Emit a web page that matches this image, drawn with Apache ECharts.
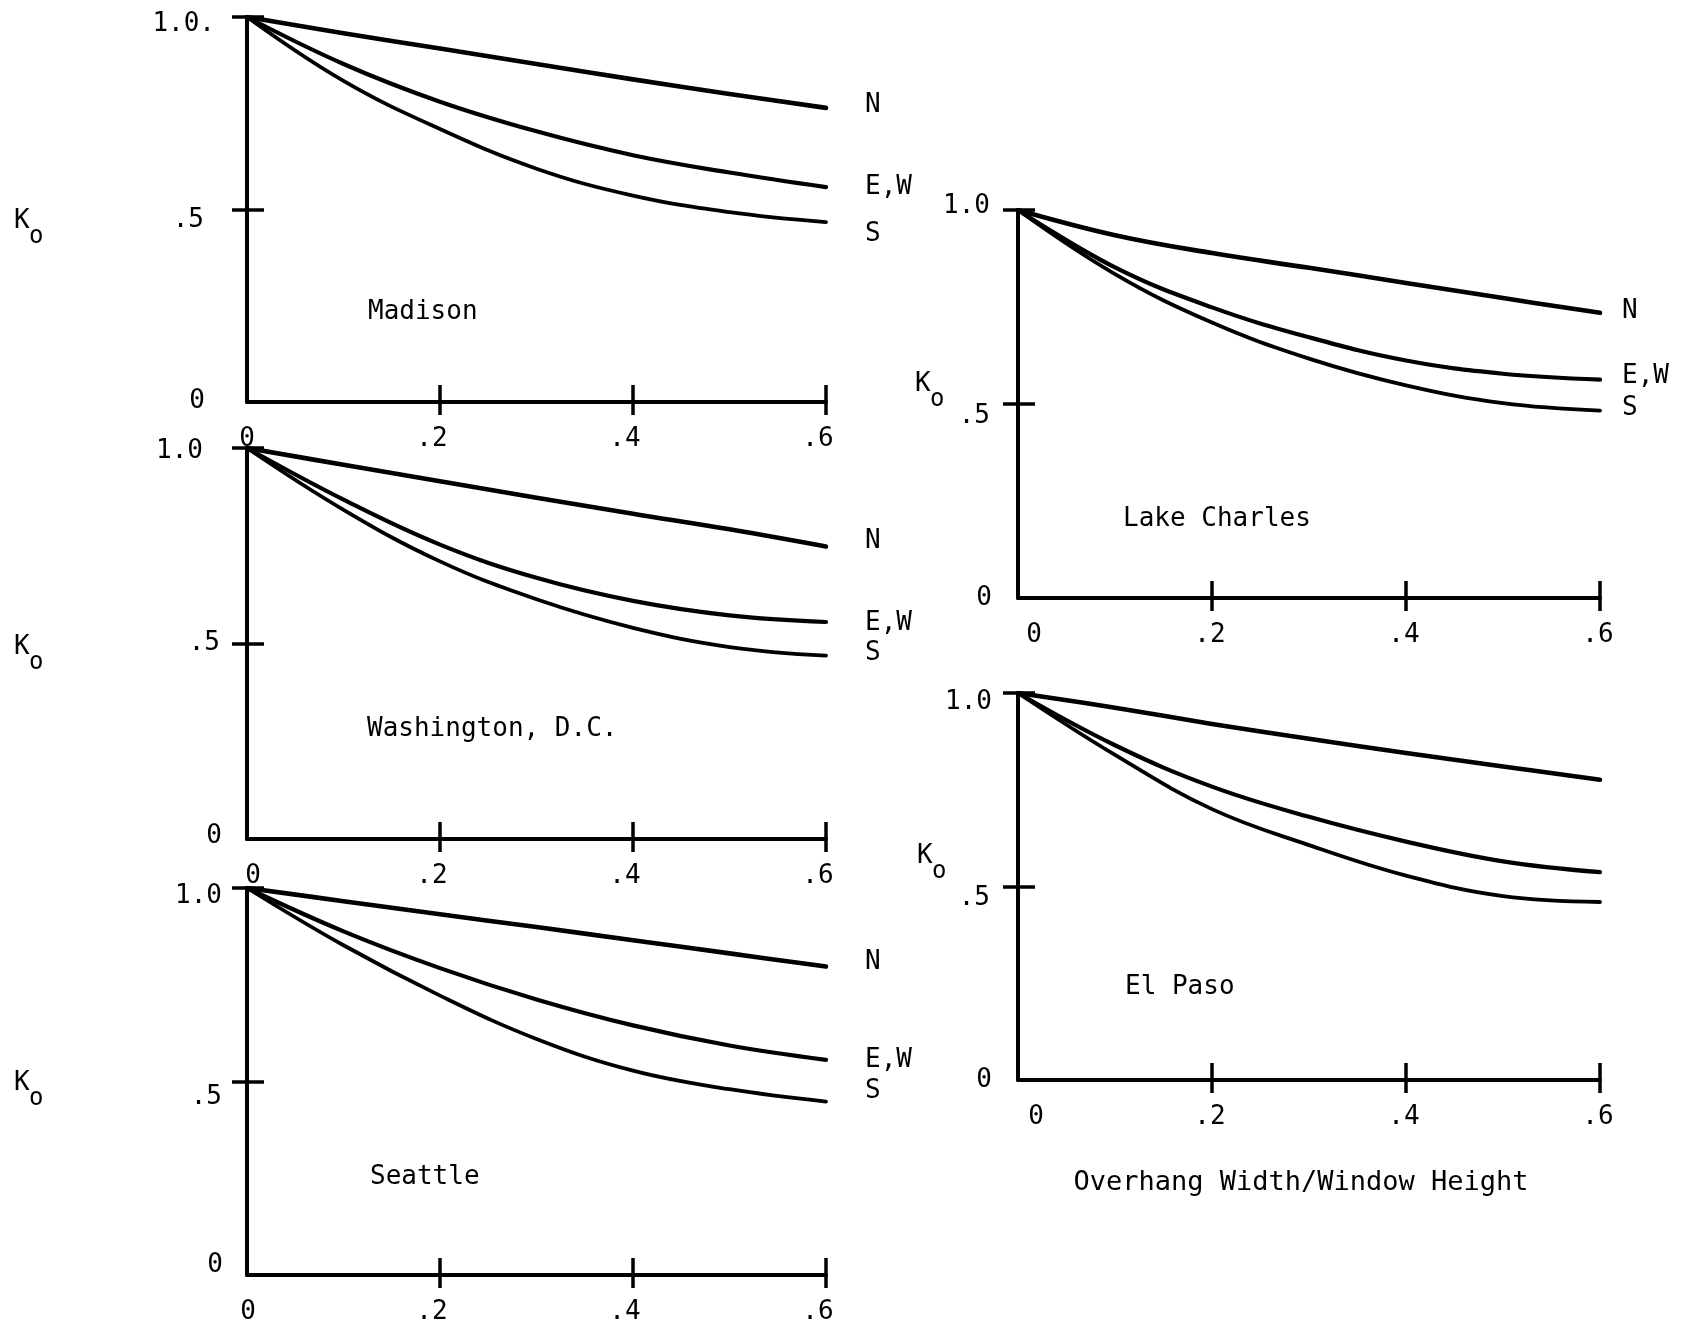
<!DOCTYPE html>
<html>
<head>
<meta charset="utf-8">
<script src="https://cdn.jsdelivr.net/npm/echarts@6/dist/echarts.min.js"></script>
<style>
  html, body { margin: 0; padding: 0; background: #ffffff; }
  #chart { width: 1682px; height: 1338px; }
</style>
</head>
<body>
<div id="chart"></div>
<script>
// Overhang width / window height sampled along each curve
const overhangRatio = [0, 0.1, 0.2, 0.3, 0.4, 0.5, 0.6];

// Overhang factor Ko by window orientation, one set per city
const madisonN  = [1.0, 0.958, 0.918, 0.878, 0.838, 0.800, 0.764];
const madisonEW = [1.0, 0.878, 0.780, 0.703, 0.641, 0.596, 0.558];
const madisonS  = [1.0, 0.834, 0.709, 0.606, 0.536, 0.493, 0.467];

const washingtonN  = [1.0, 0.957, 0.915, 0.873, 0.832, 0.792, 0.748];
const washingtonEW = [1.0, 0.868, 0.753, 0.668, 0.609, 0.572, 0.555];
const washingtonS  = [1.0, 0.842, 0.710, 0.613, 0.540, 0.491, 0.469];

const seattleN  = [1.0, 0.966, 0.932, 0.899, 0.865, 0.831, 0.797];
const seattleEW = [1.0, 0.888, 0.793, 0.712, 0.645, 0.593, 0.556];
const seattleS  = [1.0, 0.852, 0.722, 0.610, 0.528, 0.480, 0.448];

const lakeCharlesN  = [1.0, 0.935, 0.889, 0.851, 0.812, 0.773, 0.735];
const lakeCharlesEW = [1.0, 0.852, 0.749, 0.672, 0.612, 0.578, 0.563];
const lakeCharlesS  = [1.0, 0.835, 0.710, 0.617, 0.548, 0.502, 0.483];

const elPasoN  = [1.0, 0.962, 0.920, 0.882, 0.845, 0.810, 0.776];
const elPasoEW = [1.0, 0.865, 0.758, 0.680, 0.616, 0.565, 0.537];
const elPasoS  = [1.0, 0.840, 0.700, 0.607, 0.528, 0.475, 0.460];

const cities = ['Madison', 'Washington, D.C.', 'Seattle', 'Lake Charles', 'El Paso'];
const orientations = ['N', 'E,W', 'S'];

// Tick labels
const xTickText = { 0: '0', 0.2: '.2', 0.4: '.4', 0.6: '.6' };
const yTickText = { 0: '0', 0.5: '.5', 1: '1.0' };
const madisonTopLabel = '1.0.';
const xAxisTitle = 'Overhang Width/Window Height';
const yAxisSymbol = 'K';
const yAxisSubscript = 'o';

const FONT = '"DejaVu Sans Mono", "Liberation Mono", monospace';
const INK = '#000000';

// Panel layout: grid box and label placement.
// yLab: per tick (0, .5, 1.0) -> [extra right padding, vertical shift]
const panels = [
  { series: [madisonN, madisonEW, madisonS], grid: { left: 247, right: 856, top: 17, bottom: 936 },
    endLabels: true, labelDist: 39, labelDy: [-3, 0, 12], topLabel: madisonTopLabel,
    zeroDx: 0, tickDx: -8, yMargin: 32,
    yLab: { zero: [10, -1], half: [11, 11], top: [0, 7] },
    name: [368, 312], ko: [14, 221] },
  { series: [washingtonN, washingtonEW, washingtonS], grid: { left: 247, right: 856, top: 448, bottom: 499 },
    endLabels: true, labelDist: 39, labelDy: [-5, 1, -2], topLabel: null,
    zeroDx: 6, tickDx: -8, yMargin: 25,
    yLab: { zero: [0, -3], half: [2, 0], top: [19, 3] },
    name: [367, 729], ko: [14, 647] },
  { series: [seattleN, seattleEW, seattleS], grid: { left: 247, right: 856, top: 888, bottom: 63 },
    endLabels: true, labelDist: 39, labelDy: [-4, 0, -10], topLabel: null,
    zeroDx: 1, tickDx: -8, yMargin: 24,
    yLab: { zero: [0, -10], half: [1, 16], top: [1, 8] },
    name: [370, 1177], ko: [14, 1083] },
  { series: [lakeCharlesN, lakeCharlesEW, lakeCharlesS], grid: { left: 1018, right: 82, top: 210, bottom: 740 },
    endLabels: true, labelDist: 22, labelDy: [-2, -3, -2], topLabel: null,
    zeroDx: 16, tickDx: -2, yMargin: 26,
    yLab: { zero: [0, 0], half: [2, 12], top: [2, -4] },
    name: [1123, 519], ko: [915, 384] },
  { series: [elPasoN, elPasoEW, elPasoS], grid: { left: 1018, right: 82, top: 693, bottom: 258 },
    endLabels: false, labelDist: 22, labelDy: [0, 0, 0], topLabel: null,
    zeroDx: 18, tickDx: -2, yMargin: 26,
    yLab: { zero: [0, 0], half: [2, 12], top: [0, 9] },
    name: [1125, 987], ko: [917, 856] }
];

const grids = [], xAxes = [], yAxes = [], seriesList = [], graphics = [];

// padding that moves a middle-aligned rich token by dy and a right-aligned one left by dx
function shiftPad(dx, dy) {
  return [dy > 0 ? 2 * dy : 0, dx, dy < 0 ? -2 * dy : 0, 0];
}

const txt = { fontFamily: FONT, fontSize: 26, color: INK };
const tickStyle = { color: INK, width: 3.5 };

panels.forEach((p, i) => {
  grids.push(Object.assign({ containLabel: false, outerBoundsMode: 'none' }, p.grid));

  // x axis: line, upper half of each tick, labels
  xAxes.push({
    type: 'value', gridIndex: i, position: 'bottom', min: 0, max: 0.6, interval: 0.2,
    axisLine: { show: true, onZero: false, lineStyle: { color: INK, width: 4 } },
    axisTick: { show: true, inside: true, length: 17, customValues: [0.2, 0.4, 0.6], lineStyle: tickStyle },
    axisLabel: {
      show: true, margin: 24,
      formatter: v => (Math.abs(v) < 1e-9 ? '{z|0}' : '{d|' + xTickText[Math.round(v * 10) / 10] + '}'),
      rich: {
        z: Object.assign({ padding: [0, 0, 0, 2 * p.zeroDx] }, txt),
        d: Object.assign({ padding: p.tickDx < 0 ? [0, -2 * p.tickDx, 0, 0] : [0, 0, 0, 2 * p.tickDx] }, txt)
      }
    },
    splitLine: { show: false }
  });
  // lower half of each x tick
  xAxes.push({
    type: 'value', gridIndex: i, position: 'bottom', offset: 0, min: 0, max: 0.6, interval: 0.2,
    axisLine: { show: false, onZero: false },
    axisTick: { show: true, inside: false, length: 13, customValues: [0.2, 0.4, 0.6], lineStyle: tickStyle },
    axisLabel: { show: false }, splitLine: { show: false }
  });

  yAxes.push({
    type: 'value', gridIndex: i, position: 'left', min: 0, max: 1, interval: 0.5,
    axisLine: { show: true, onZero: false, lineStyle: { color: INK, width: 4 } },
    axisTick: { show: true, inside: true, length: 17, customValues: [0.5, 1], lineStyle: tickStyle },
    axisLabel: {
      show: true, margin: p.yMargin,
      formatter: v => {
        if (v === 0) return '{z|' + yTickText[0] + '}';
        if (v === 0.5) return '{h|' + yTickText[0.5] + '}';
        return '{t|' + (p.topLabel || yTickText[1]) + '}';
      },
      rich: {
        z: Object.assign({ padding: shiftPad(p.yLab.zero[0], p.yLab.zero[1]) }, txt),
        h: Object.assign({ padding: shiftPad(p.yLab.half[0], p.yLab.half[1]) }, txt),
        t: Object.assign({ padding: shiftPad(p.yLab.top[0], p.yLab.top[1]) }, txt)
      }
    },
    splitLine: { show: false }
  });
  // left half of each y tick
  yAxes.push({
    type: 'value', gridIndex: i, position: 'left', offset: 0, min: 0, max: 1, interval: 0.5,
    axisLine: { show: false, onZero: false },
    axisTick: { show: true, inside: false, length: 15, customValues: [0.5, 1], lineStyle: tickStyle },
    axisLabel: { show: false }, splitLine: { show: false }
  });

  p.series.forEach((values, j) => {
    seriesList.push({
      type: 'line',
      name: cities[i] + ' ' + orientations[j],
      xAxisIndex: 2 * i, yAxisIndex: 2 * i,
      data: overhangRatio.map((x, k) => [x, values[k]]),
      smooth: 0.4,
      symbol: 'none', silent: true,
      lineStyle: { color: INK, width: [4.6, 4.2, 3.8][j], cap: 'round', join: 'round' },
      endLabel: {
        show: p.endLabels,
        formatter: '{e|' + orientations[j] + '}',
        distance: p.labelDist,
        align: 'left', verticalAlign: 'middle',
        rich: { e: Object.assign({ padding: shiftPad(0, p.labelDy[j]) }, txt) }
      },
      z: 3
    });
  });

  // city name inside the panel
  graphics.push({
    type: 'text', x: p.name[0], y: p.name[1],
    style: { text: cities[i], fontFamily: FONT, fontSize: 26, fill: INK, align: 'left', verticalAlign: 'middle' }
  });
  // Ko axis symbol
  graphics.push({
    type: 'text', x: p.ko[0], y: p.ko[1],
    style: { text: yAxisSymbol, fontFamily: FONT, fontSize: 26, fill: INK, align: 'left', verticalAlign: 'middle' }
  });
  graphics.push({
    type: 'text', x: p.ko[0] + 15, y: p.ko[1] + 16,
    style: { text: yAxisSubscript, fontFamily: FONT, fontSize: 24, fill: INK, align: 'left', verticalAlign: 'middle' }
  });
});

graphics.push({
  type: 'text', x: 1301, y: 1183,
  style: { text: xAxisTitle, fontFamily: FONT, fontSize: 27, fill: INK, align: 'center', verticalAlign: 'middle' }
});

const chart = echarts.init(document.getElementById('chart'), null, { renderer: 'canvas' });
chart.setOption({
  backgroundColor: '#ffffff',
  animation: false,
  grid: grids,
  xAxis: xAxes,
  yAxis: yAxes,
  series: seriesList,
  graphic: graphics
});
</script>
</body>
</html>
